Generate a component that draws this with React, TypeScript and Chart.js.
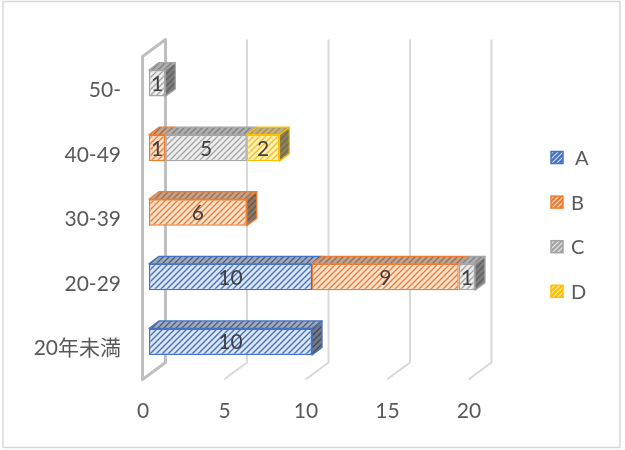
import React, { useEffect, useRef } from 'react';
import { Chart, registerables } from 'chart.js';

Chart.register(...registerables);

// Categories listed bottom-to-top (the y axis is reversed)
const categories = ['20年未満', '20-29', '30-39', '40-49', '50-'];
const seriesNames = ['A', 'B', 'C', 'D'];
const seriesA = [10, 10, null, null, null];
const seriesB = [null, 9, 6, 1, null];
const seriesC = [null, 1, null, 5, 1];
const seriesD = [null, null, null, 2, null];
const xTicks = [0, 5, 10, 15, 20];

const seriesColors = ['#4472C4', '#ED7D31', '#A5A5A5', '#FFC000'];
const seriesTints = ['#dde6f6', '#fce3d2', '#eeeeee', '#fff1c7'];

const FONT = 'Lato, "Noto Sans CJK JP", "Noto Sans", sans-serif';

// 3D geometry (pixels)
const FRONT_DX = -6.5;
const FRONT_DY = 5.5;
const BACK_DX = 16.5;
const BACK_DY = -11.5;
const BAR_DX = 10;
const BAR_DY = -7.5;

function makeHatch(fg: string, bg: string, size = 6, lw = 1.4): CanvasPattern {
  const c = document.createElement('canvas');
  c.width = size;
  c.height = size;
  const g = c.getContext('2d') as CanvasRenderingContext2D;
  g.fillStyle = bg;
  g.fillRect(0, 0, size, size);
  g.strokeStyle = fg;
  g.lineWidth = lw;
  g.beginPath();
  g.moveTo(0, size);
  g.lineTo(size, 0);
  g.moveTo(-1, 1);
  g.lineTo(1, -1);
  g.moveTo(size - 1, size + 1);
  g.lineTo(size + 1, size - 1);
  g.stroke();
  return g.createPattern(c, 'repeat') as CanvasPattern;
}

const wallsPlugin = {
  id: 'walls3d',
  beforeDraw(chart: any) {
    const { ctx, width, height } = chart;
    ctx.save();
    ctx.fillStyle = '#ffffff';
    ctx.fillRect(0, 0, width, height);
    ctx.strokeStyle = '#d9d9d9';
    ctx.lineWidth = 1.5;
    ctx.strokeRect(3, 1.5, 617, 446);
    ctx.restore();
  },
  beforeDatasetsDraw(chart: any) {
    const { ctx, chartArea, scales } = chart;
    const { top, bottom } = chartArea;
    const xs = scales.x;
    ctx.save();
    ctx.lineJoin = 'round';
    xTicks.forEach((v) => {
      const px = xs.getPixelForValue(v);
      if (v === 0) {
        ctx.strokeStyle = '#bfbfbf';
        ctx.lineWidth = 3;
        ctx.beginPath();
        ctx.moveTo(px + FRONT_DX, top + FRONT_DY);
        ctx.lineTo(px + BACK_DX, top + BACK_DY);
        ctx.lineTo(px + BACK_DX, bottom + BACK_DY);
        ctx.lineTo(px + FRONT_DX, bottom + FRONT_DY);
        ctx.closePath();
        ctx.stroke();
      } else {
        ctx.strokeStyle = '#d9d9d9';
        ctx.lineWidth = 2;
        ctx.beginPath();
        ctx.moveTo(px + BACK_DX, top + BACK_DY);
        ctx.lineTo(px + BACK_DX, bottom + BACK_DY);
        ctx.lineTo(px + FRONT_DX, bottom + FRONT_DY);
        ctx.stroke();
      }
    });
    ctx.restore();
  },
  afterDatasetsDraw(chart: any) {
    const { ctx } = chart;
    const nCat = chart.data.labels.length;
    const nSets = chart.data.datasets.length;
    // last non-empty segment of each stack gets a visible end face
    const lastSet: number[] = [];
    for (let i = 0; i < nCat; i++) {
      lastSet[i] = -1;
      for (let d = 0; d < nSets; d++) {
        const v = chart.data.datasets[d].data[i];
        if (v !== null && v !== undefined && v !== 0) lastSet[i] = d;
      }
    }
    ctx.save();
    ctx.lineJoin = 'round';
    const labels: { x: number; y: number; t: string }[] = [];
    for (let d = 0; d < nSets; d++) {
      const meta = chart.getDatasetMeta(d);
      const ds = chart.data.datasets[d];
      meta.data.forEach((el: any, i: number) => {
        const v = ds.data[i];
        if (v === null || v === undefined || v === 0) return;
        const p = el.getProps(['x', 'y', 'base', 'height'], true);
        const left = Math.min(p.x, p.base);
        const right = Math.max(p.x, p.base);
        const t = p.y - p.height / 2;
        const b = p.y + p.height / 2;
        // top face
        ctx.beginPath();
        ctx.moveTo(left, t);
        ctx.lineTo(right, t);
        ctx.lineTo(right + BAR_DX, t + BAR_DY);
        ctx.lineTo(left + BAR_DX, t + BAR_DY);
        ctx.closePath();
        ctx.fillStyle = ds.backgroundColor;
        ctx.fill();
        ctx.fillStyle = 'rgba(70,70,70,0.38)';
        ctx.fill();
        ctx.strokeStyle = seriesColors[d];
        ctx.lineWidth = 1.3;
        ctx.stroke();
        // end face
        if (lastSet[i] === d) {
          ctx.beginPath();
          ctx.moveTo(right, t);
          ctx.lineTo(right + BAR_DX, t + BAR_DY);
          ctx.lineTo(right + BAR_DX, b + BAR_DY);
          ctx.lineTo(right, b);
          ctx.closePath();
          ctx.fillStyle = ds.backgroundColor;
          ctx.fill();
          ctx.fillStyle = 'rgba(50,50,50,0.6)';
          ctx.fill();
          ctx.strokeStyle = seriesColors[d];
          ctx.stroke();
        }
        labels.push({ x: (left + right) / 2, y: p.y, t: String(v) });
      });
    }
    ctx.fillStyle = '#404040';
    ctx.font = `21px ${FONT}`;
    ctx.textAlign = 'center';
    ctx.textBaseline = 'middle';
    labels.forEach((l) => ctx.fillText(l.t, l.x, l.y + 1));
    ctx.restore();
  },
  afterDraw(chart: any) {
    const { ctx } = chart;
    const startY = 157.5;
    const step = 44.6;
    const boxX = 551;
    const box = 12;
    ctx.save();
    chart.data.datasets.forEach((ds: any, d: number) => {
      const cy = startY + d * step;
      ctx.fillStyle = ds.legendFill;
      ctx.fillRect(boxX, cy - box / 2, box, box);
      ctx.strokeStyle = seriesColors[d];
      ctx.lineWidth = 1.5;
      ctx.strokeRect(boxX, cy - box / 2, box, box);
      ctx.fillStyle = '#595959';
      ctx.font = `20px ${FONT}`;
      ctx.textAlign = 'left';
      ctx.textBaseline = 'middle';
      ctx.fillText(ds.label, d === 0 ? 575 : 571, cy + 1);
    });
    ctx.restore();
  },
};

export default function App() {
  const canvasRef = useRef<HTMLCanvasElement | null>(null);

  useEffect(() => {
    document.body.style.margin = '0';
    const canvas = canvasRef.current;
    if (!canvas) return;
    const values = [seriesA, seriesB, seriesC, seriesD];
    const datasets = seriesNames.map((name, d) => ({
      label: name,
      data: values[d],
      backgroundColor: makeHatch(seriesColors[d], seriesTints[d]),
      legendFill: makeHatch('rgba(255,255,255,0.75)', seriesColors[d], 5, 1.2),
      borderColor: seriesColors[d],
      borderWidth: 1.5,
      borderSkipped: false,
      barPercentage: 0.41,
      categoryPercentage: 1,
    }));

    const chart = new Chart(canvas, {
      type: 'bar',
      data: { labels: categories, datasets: datasets as any },
      options: {
        indexAxis: 'y',
        responsive: true,
        maintainAspectRatio: false,
        animation: false,
        events: [],
        layout: { padding: { left: 0, right: 150, top: 51, bottom: 0 } },
        plugins: {
          legend: { display: false },
          tooltip: { enabled: false },
          title: { display: false },
        },
        scales: {
          x: {
            stacked: true,
            min: 0,
            max: 20,
            grid: { display: false, drawTicks: false },
            border: { display: false },
            ticks: {
              stepSize: 5,
              padding: 25,
              labelOffset: -6,
              color: '#595959',
              font: { family: FONT, size: 21 },
            },
            afterFit: (scale: any) => {
              scale.height = 76;
            },
          },
          y: {
            stacked: true,
            reverse: true,
            grid: { display: false, drawTicks: false },
            border: { display: false },
            ticks: {
              padding: 28,
              labelOffset: 7,
              color: '#595959',
              font: { family: FONT, size: 21 },
            },
            afterFit: (scale: any) => {
              scale.width = 149;
            },
          },
        },
      },
      plugins: [wallsPlugin],
    });
    return () => chart.destroy();
  }, []);

  return (
    <div style={{ width: 625, height: 450, position: 'relative' }}>
      <canvas ref={canvasRef} />
    </div>
  );
}
